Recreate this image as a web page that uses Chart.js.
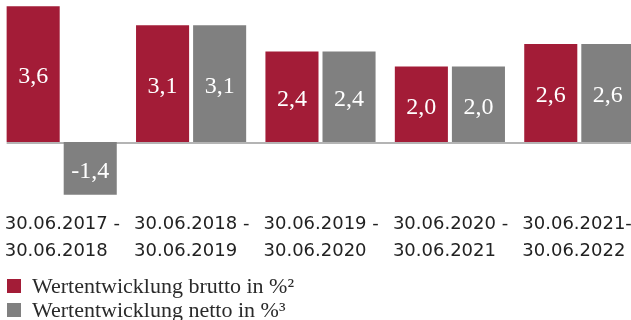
<!DOCTYPE html>
<html>
<head>
<meta charset="utf-8">
<script src="https://cdn.jsdelivr.net/npm/chart.js@4.4.0/dist/chart.umd.min.js"></script>
<style>
  body { margin: 0; background: #fff; overflow: hidden; }
  /* Zeichenflaeche etwas breiter, letzte Saeule laeuft am Rand aus */
  canvas { display: block; margin-left: -3px; }
</style>
</head>
<body>
<canvas id="perfChart" width="647" height="320"></canvas>
<script>
// Zeitraeume (zweizeilig) und Wertentwicklung je Zeitraum
const periods = [
  ["30.06.2017 -", "30.06.2018"],
  ["30.06.2018 -", "30.06.2019"],
  ["30.06.2019 -", "30.06.2020"],
  ["30.06.2020 -", "30.06.2021"],
  ["30.06.2021-", "30.06.2022"]
];
const brutto = [3.6, 3.1, 2.4, 2.0, 2.6];
const netto = [-1.4, 3.1, 2.4, 2.0, 2.6];
const seriesNames = ["Wertentwicklung brutto in %\u00B2", "Wertentwicklung netto in %\u00B3"];
const barColors = ["#a31c37", "#808080"];

const serif = "'Liberation Serif', 'DejaVu Serif', serif";

function fmt(v) {
  return v.toFixed(1).replace(".", ",");
}

// graue Nulllinie, beginnt an der ersten Saeule
const zeroLine = {
  id: "zeroLine",
  beforeDatasetsDraw(chart) {
    const ctx = chart.ctx;
    const y = chart.scales.y.getPixelForValue(0);
    const first = chart.getDatasetMeta(0).data[0];
    ctx.save();
    ctx.strokeStyle = "#b4b4b4";
    ctx.lineWidth = 2;
    ctx.beginPath();
    ctx.moveTo(first.x - first.width / 2, y + 1);
    ctx.lineTo(chart.width, y + 1);
    ctx.stroke();
    ctx.restore();
  }
};

// Werte mittig in die Saeulen schreiben
const valueLabels = {
  id: "valueLabels",
  afterDatasetsDraw(chart) {
    const ctx = chart.ctx;
    ctx.save();
    ctx.font = "24px " + serif;
    ctx.fillStyle = "#fff";
    ctx.textAlign = "center";
    ctx.textBaseline = "middle";
    chart.data.datasets.forEach(function(ds, i) {
      chart.getDatasetMeta(i).data.forEach(function(bar, j) {
        const mid = (bar.y + bar.base) / 2;
        ctx.fillText(fmt(ds.data[j]), bar.x, mid + 3);
      });
    });
    ctx.restore();
  }
};

// Legende untereinander, links unten
const stackedLegend = {
  id: "stackedLegend",
  afterDraw(chart) {
    const ctx = chart.ctx;
    ctx.save();
    ctx.font = "22px " + serif;
    ctx.textBaseline = "middle";
    chart.data.datasets.forEach(function(ds, i) {
      const cy = chart.height - 34 + i * 24;
      ctx.fillStyle = ds.backgroundColor;
      ctx.fillRect(10, cy - 7, 14, 14);
      ctx.fillStyle = "#2a2a2a";
      ctx.fillText(ds.label, 35, cy + 1);
    });
    ctx.restore();
  }
};

new Chart(document.getElementById("perfChart"), {
  type: "bar",
  data: {
    labels: periods,
    datasets: [
      { label: seriesNames[0], data: brutto, backgroundColor: barColors[0] },
      { label: seriesNames[1], data: netto, backgroundColor: barColors[1] }
    ]
  },
  options: {
    responsive: false,
    animation: false,
    categoryPercentage: 0.882,
    barPercentage: 0.93,
    layout: { padding: { left: 0, right: 0, top: 0, bottom: 51 } },
    plugins: {
      legend: { display: false },
      tooltip: { enabled: false }
    },
    scales: {
      x: {
        grid: { display: false },
        border: { display: false },
        ticks: {
          align: "start",
          padding: 4,
          color: "#222",
          labelOffset: -57,
          font: { family: "'DejaVu Sans', sans-serif", size: 18, lineHeight: "27px" },
          maxRotation: 0,
          autoSkip: false
        },
        // Beschriftungen linksbuendig, ohne zusaetzlichen Rand rechts
        afterFit: function(scale) {
          scale.paddingLeft = 0;
          scale.paddingRight = 0;
        }
      },
      y: {
        display: false,
        min: -1.512,
        max: 3.767
      }
    }
  },
  plugins: [zeroLine, valueLabels, stackedLegend]
});
</script>
</body>
</html>
